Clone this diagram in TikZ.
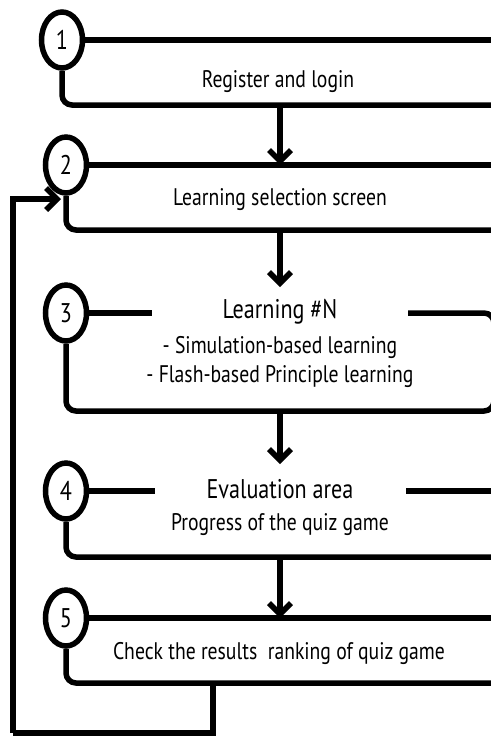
\documentclass[tikz,border=0pt]{standalone}
\usepackage{fontspec}
\setmainfont{PT Sans}[FakeStretch=0.82]
\usetikzlibrary{arrows.meta,shapes.geometric}
\pgfdeclarelayer{bg}
\pgfsetlayers{bg,main}
\begin{document}
\begin{tikzpicture}[x=1pt,y=-1pt,
  ln/.style={line width=5.5pt, rounded corners=10pt},
  sq/.style={line width=5.5pt},
  num/.style={draw, ellipse, line width=5.5pt, minimum width=41pt, minimum height=56pt, inner sep=0pt, fill=white, font=\fontsize{27}{28}\selectfont},
  arr/.style={line width=5.5pt, -{Straight Barb[length=11pt,width=22pt]}},
  lbl/.style={font=\fontsize{24}{26}\selectfont, align=center, inner sep=0pt},
  ttl/.style={font=\fontsize{27}{28}\selectfont, align=center, inner sep=0pt}
]
\useasboundingbox (0,0) rectangle (490,736);
% circles
\node[num] (c1) at (62,40) {1};
\node[num] (c2) at (66,165) {2};
\node[num] (c3) at (66,313) {3};
\node[num] (c4) at (66,491) {4};
\node[num] (c5) at (66,618) {5};
% texts
\node[lbl] (t1) at (278,82) {Register and login};
\node[lbl] (t2) at (280,200) {Learning selection screen};
\node[ttl] (t3) at (280,312) {Learning \#N};
\node[lbl] (t3a) at (280,347) {- Simulation-based learning};
\node[lbl] (t3b) at (280,377) {- Flash-based Principle learning};
\node[ttl] (t4) at (280,489) {Evaluation area};
\node[lbl] (t4a) at (280,525) {Progress of the quiz game};
\node[lbl] (t5) at (279,653) {Check the results\ \ ranking of quiz game};
% coordinates
\coordinate (b1) at (280,105);
\coordinate (a2) at (280,165);
\coordinate (b2) at (280,230);
\coordinate (a3) at (280,287);
\coordinate (b3) at (280,411);
\coordinate (a4) at (280,464);
\coordinate (b4) at (280,557);
\coordinate (a5) at (280,618);
\coordinate (f0) at (213,683);
\coordinate (f1) at (13,733);
\coordinate (fb) at (61,199);
\begin{pgfonlayer}{bg}
% box 1
\draw[ln] (c1.east) -- (495,40);
\draw[ln] (c1.south) |- (495,105);
% box 2
\draw[ln] (c2.east) -- (495,165);
\draw[ln] (c2.south) |- (495,230);
% box 3
\draw[ln] (c3.east) -- (152,313);
\draw[ln] (c3.south) |- (494,411) |- (408,313);
% box 4
\draw[ln] (c4.east) -- (155,491);
\draw[ln] (406,491) -- (495,491);
\draw[ln] (c4.south) |- (495,557);
% box 5
\draw[ln] (c5.east) -- (495,618);
\draw[ln] (c5.south) |- (495,683);
% arrows
\draw[arr] (b1) -- (a2);
\draw[arr] (b2) -- (a3);
\draw[arr] (b3) -- (a4);
\draw[arr] (b4) -- (a5);
% feedback loop
\draw[sq] (f0) |- (f1);
\draw[arr] (f1) |- (fb);
\end{pgfonlayer}
\end{tikzpicture}
\end{document}
